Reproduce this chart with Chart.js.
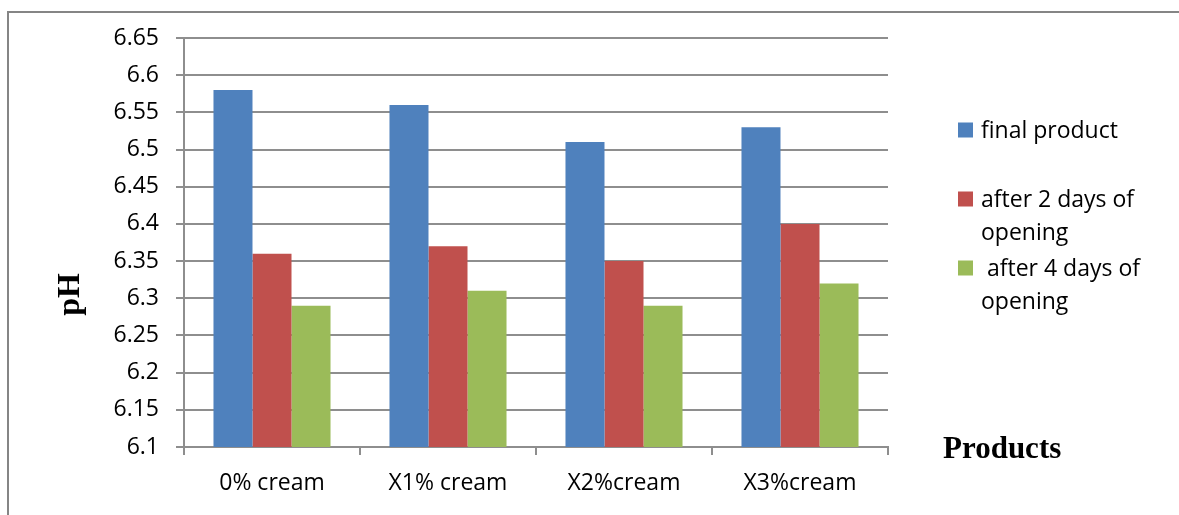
<!DOCTYPE html>
<html>
<head>
<meta charset="utf-8">
<title>pH of cream products</title>
<script src="https://cdn.jsdelivr.net/npm/chart.js@4/dist/chart.umd.min.js"></script>
<style>
  html, body { margin: 0; padding: 0; background: #ffffff; }
  #wrap { width: 1179px; height: 515px; position: relative; }
</style>
</head>
<body>
<div id="wrap"><canvas id="chart" width="1179" height="515"></canvas></div>
<script>
// Categories and measured pH values
const products = ['0% cream', 'X1% cream', 'X2%cream', 'X3%cream'];
const finalProduct = [6.58, 6.56, 6.51, 6.53];
const after2Days = [6.36, 6.37, 6.35, 6.40];
const after4Days = [6.29, 6.31, 6.29, 6.32];

const seriesNames = ['final product', 'after 2 days of opening', ' after 4 days of opening'];
const legendLines = [['final product'], ['after 2 days of', 'opening'], [' after 4 days of', 'opening']];
const seriesColors = ['#4F81BD', '#C0504D', '#9BBB59'];

const yMin = 6.1, yMax = 6.65, yStep = 0.05;
const xTitle = 'Products';
const yTitle = 'pH';

const GRID = '#8e8e8e';
const TICK_FONT = { family: 'Open Sans', size: 23 };

// Frame, axis titles and wrapped legend
const decorations = {
  id: 'decorations',
  afterDraw(chart) {
    const ctx = chart.ctx;
    const area = chart.chartArea;
    ctx.save();
    // outer frame (left and top edges)
    ctx.strokeStyle = '#858585';
    ctx.lineWidth = 2;
    ctx.beginPath();
    ctx.moveTo(8, 515);
    ctx.lineTo(8, 12);
    ctx.lineTo(1179, 12);
    ctx.stroke();

    // y axis title
    ctx.fillStyle = '#000000';
    ctx.font = 'bold 32px "Liberation Serif", "Times New Roman", serif';
    ctx.save();
    ctx.translate(79, (area.top + area.bottom) / 2 + 52);
    ctx.rotate(-Math.PI / 2);
    ctx.textAlign = 'center';
    ctx.textBaseline = 'alphabetic';
    ctx.fillText(yTitle, 0, 0);
    ctx.restore();

    // x axis title, to the right of the plot
    ctx.font = 'bold 31px "Liberation Serif", "Times New Roman", serif';
    ctx.textAlign = 'left';
    ctx.textBaseline = 'alphabetic';
    ctx.fillText(xTitle, area.right + 55, area.bottom + 11);

    // legend
    ctx.font = '23px "Open Sans"';
    ctx.textBaseline = 'middle';
    const lx = area.right + 70;
    const centers = [131, 200, 269];
    chart.data.datasets.forEach((ds, i) => {
      const cy = centers[i];
      ctx.fillStyle = ds.backgroundColor;
      ctx.fillRect(lx, cy - 8.5, 15, 15);
      ctx.fillStyle = '#000000';
      legendLines[i].forEach((line, j) => {
        ctx.fillText(line, lx + 23, cy + j * 33);
      });
    });
    ctx.restore();
  }
};

new Chart(document.getElementById('chart'), {
  type: 'bar',
  data: {
    labels: products,
    datasets: [
      { label: seriesNames[0], data: finalProduct, backgroundColor: seriesColors[0] },
      { label: seriesNames[1], data: after2Days, backgroundColor: seriesColors[1] },
      { label: seriesNames[2], data: after4Days, backgroundColor: seriesColors[2] }
    ]
  },
  options: {
    responsive: false,
    animation: false,
    devicePixelRatio: 1,
    layout: { padding: { left: 0, right: 291, top: 38, bottom: 0 } },
    datasets: { bar: { barPercentage: 1.0, categoryPercentage: 0.665 } },
    plugins: { legend: { display: false }, tooltip: { enabled: false } },
    scales: {
      x: {
        grid: { offset: true, drawOnChartArea: false, drawTicks: true, tickLength: 8, color: GRID, lineWidth: 2 },
        border: { display: true, color: GRID, width: 2 },
        ticks: { color: '#000000', font: TICK_FONT, padding: 15, maxRotation: 0 },
        afterFit(scale) { scale.height = 68; }
      },
      y: {
        min: yMin,
        max: yMax,
        grid: { color: GRID, lineWidth: 2, drawTicks: true, tickLength: 8 },
        border: { display: true, color: GRID, width: 2 },
        ticks: {
          stepSize: yStep,
          color: '#000000',
          font: TICK_FONT,
          padding: 17,
          callback: (v) => String(Number(v.toFixed(2)))
        },
        afterFit(scale) { scale.width = 184; }
      }
    }
  },
  plugins: [decorations]
});
</script>
</body>
</html>
